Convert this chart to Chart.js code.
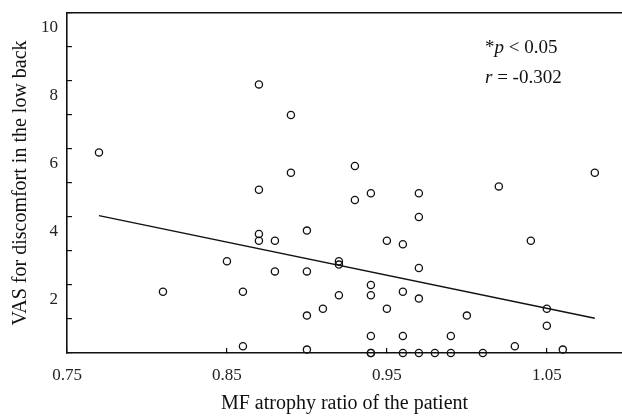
<!DOCTYPE html>
<html>
<head>
<meta charset="utf-8">
<script src="https://cdn.jsdelivr.net/npm/chart.js@4/dist/chart.umd.min.js"></script>
<style>
  html, body { margin: 0; padding: 0; background: #fff; }
  #wrap { width: 622px; height: 416px; }
</style>
</head>
<body>
<div id="wrap"><canvas id="chart"></canvas></div>
<script>
// MF atrophy ratio (x) vs VAS score (y)
const atrophyRatio = [
  0.77, 0.81, 0.85, 0.86, 0.86, 0.87, 0.87, 0.87, 0.87, 0.88,
  0.88, 0.89, 0.89, 0.90, 0.90, 0.90, 0.90, 0.91, 0.92, 0.92,
  0.92, 0.93, 0.93, 0.94, 0.94, 0.94, 0.94, 0.94, 0.94, 0.95,
  0.95, 0.96, 0.96, 0.96, 0.96, 0.97, 0.97, 0.97, 0.97, 0.97,
  0.98, 0.99, 0.99, 1.00, 1.01, 1.02, 1.03, 1.04, 1.05, 1.05,
  1.06, 1.08
];
const vasScore = [
  5.9, 1.8, 2.7, 1.8, 0.2, 7.9, 4.8, 3.5, 3.3, 3.3,
  2.4, 7.0, 5.3, 3.6, 2.4, 1.1, 0.1, 1.3, 2.7, 2.6,
  1.7, 5.5, 4.5, 4.7, 2.0, 1.7, 0.5, 0.0, 0.0, 3.3,
  1.3, 3.2, 1.8, 0.5, 0.0, 4.7, 4.0, 2.5, 1.6, 0.0,
  0.0, 0.5, 0.0, 1.1, 0.0, 4.9, 0.2, 3.3, 1.3, 0.8,
  0.1, 5.3
];

// regression line end points
const fitX = [0.77, 1.08];
const fitY = [4.04, 1.02];

const xTicks = [0.75, 0.85, 0.95, 1.05];
const yTicks = [0, 1, 2, 3, 4, 5, 6, 7, 8, 9, 10];

const statLines = [
  [["*", false], ["p", true], [" < 0.05", false]],
  [["r", true], [" = -0.302", false]]
];

const serif = "'Liberation Serif', 'DejaVu Serif', serif";
const ink = "#111";

const points = atrophyRatio.map((x, i) => ({ x: x, y: vasScore[i] }));
const fitLine = fitX.map((x, i) => ({ x: x, y: fitY[i] }));

// the "*p < 0.05 / r = -0.302" note in the top right corner
const statsNote = {
  id: "statsNote",
  afterDraw(chart) {
    const ctx = chart.ctx;
    ctx.save();
    ctx.fillStyle = ink;
    ctx.textBaseline = "alphabetic";
    let baseY = 53;
    statLines.forEach(parts => {
      let x = 485;
      parts.forEach(([txt, italic]) => {
        ctx.font = (italic ? "italic " : "") + "19px " + serif;
        ctx.fillText(txt, x, baseY);
        x += ctx.measureText(txt).width;
      });
      baseY += 30;
    });
    ctx.restore();
  }
};

// keep the plot box where the scan has it, no label padding
function noPad(axis) {
  axis.paddingLeft = 0;
  axis.paddingRight = 0;
  axis.paddingTop = 0;
  axis.paddingBottom = 0;
}

new Chart(document.getElementById("chart"), {
  type: "scatter",
  data: {
    datasets: [
      {
        label: "patients",
        data: points,
        pointStyle: "circle",
        pointRadius: 3.6,
        pointBorderWidth: 1.3,
        borderColor: ink,
        backgroundColor: "rgba(255,255,255,0)",
        showLine: false,
        clip: false
      },
      {
        label: "fit",
        data: fitLine,
        showLine: true,
        pointRadius: 0,
        borderColor: ink,
        borderWidth: 1.5,
        fill: false
      }
    ]
  },
  options: {
    responsive: true,
    maintainAspectRatio: false,
    animation: false,
    layout: { padding: 0, autoPadding: false },
    plugins: {
      legend: { display: false },
      tooltip: { enabled: false }
    },
    scales: {
      x: {
        type: "linear",
        position: "bottom",
        min: 0.75,
        max: 1.097,
        afterBuildTicks: axis => { axis.ticks = xTicks.map(v => ({ value: v })); },
        afterFit: axis => { axis.height = 63; noPad(axis); },
        grid: { drawOnChartArea: false, drawTicks: true, tickLength: -5, color: ink, lineWidth: 1.2 },
        border: { display: true, color: ink, width: 1.6 },
        ticks: {
          color: "#222",
          font: { family: serif, size: 17 },
          padding: 17,
          maxRotation: 0,
          autoSkip: false,
          callback: v => v.toFixed(2)
        },
        title: {
          display: true,
          text: "MF atrophy ratio of the patient",
          color: "#111",
          font: { family: serif, size: 20 },
          padding: { top: 0, bottom: 0 }
        }
      },
      xTop: {
        type: "linear",
        position: "top",
        min: 0.75,
        max: 1.097,
        afterFit: axis => { axis.height = 13; noPad(axis); },
        grid: { display: false },
        border: { display: true, color: ink, width: 1.6 },
        ticks: { display: false }
      },
      y: {
        type: "linear",
        position: "left",
        min: 0,
        max: 10,
        afterBuildTicks: axis => { axis.ticks = yTicks.map(v => ({ value: v })); },
        afterFit: axis => { axis.width = 67; noPad(axis); },
        grid: { drawOnChartArea: false, drawTicks: true, tickLength: -5, color: ink, lineWidth: 1.2 },
        border: { display: true, color: ink, width: 1.6 },
        ticks: {
          color: "#222",
          font: { family: serif, size: 17 },
          padding: 14,
          labelOffset: 15,
          autoSkip: false,
          callback: v => (v > 0 && v % 2 === 0 ? String(v) : "")
        },
        title: {
          display: true,
          text: "VAS for discomfort in the low back",
          color: "#111",
          font: { family: serif, size: 20 },
          padding: { top: 9, bottom: 0 }
        }
      }
    }
  },
  plugins: [statsNote]
});
</script>
</body>
</html>
